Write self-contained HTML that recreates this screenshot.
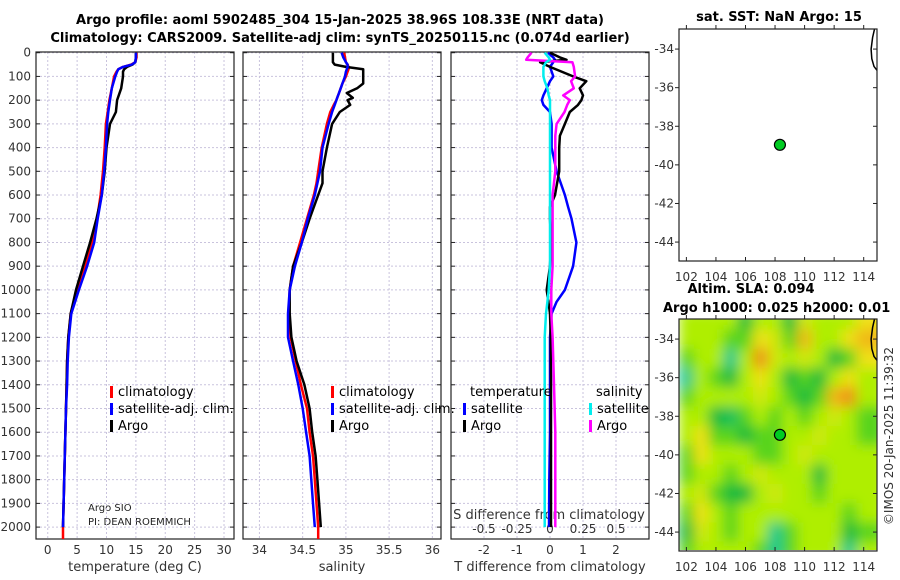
<!DOCTYPE html>
<html><head><meta charset="utf-8"><style>
body{margin:0;background:#fff}
svg{display:block;font-family:"DejaVu Sans","Liberation Sans",sans-serif}
.t{font-size:12px;fill:#333}
.b{font-weight:bold;font-size:13px;fill:#000}
</style></head><body>
<svg id="fig" width="900" height="580" viewBox="0 0 900 580">
<defs>
<clipPath id="c1"><rect x="36" y="52" width="198" height="487"/></clipPath>
<clipPath id="c2"><rect x="243" y="52" width="198" height="487"/></clipPath>
<clipPath id="c3"><rect x="451" y="52" width="198" height="487"/></clipPath>
<clipPath id="cm1"><rect x="679" y="29" width="198" height="232"/></clipPath>
<clipPath id="cm2"><rect x="679" y="319" width="198" height="231"/></clipPath>
<filter id="blur" x="0" y="0" width="1" height="1"><feGaussianBlur stdDeviation="6.5" edgeMode="duplicate"/></filter>
</defs>
<text class="b" x="340" y="24" text-anchor="middle">Argo profile: aoml 5902485_304 15-Jan-2025 38.96S 108.33E (NRT data)</text>
<text class="b" x="340" y="42" text-anchor="middle">Climatology: CARS2009. Satellite-adj clim: synTS_20250115.nc (0.074d earlier)</text>
<text class="b" x="779" y="21" text-anchor="middle">sat. SST: NaN Argo: 15</text>
<text class="b" x="751" y="293" text-anchor="middle">Altim. SLA: 0.094</text>
<text class="b" x="663" y="312">Argo h1000: 0.025 h2000: 0.01</text>
<text class="t" x="0" y="0" transform="translate(893,436) rotate(-90)" text-anchor="middle">©IMOS 20-Jan-2025 11:39:32</text>
<text x="88" y="511" style="font-size:10px;fill:#222">Argo SIO</text>
<text x="88" y="525" style="font-size:10px;fill:#222">PI: DEAN ROEMMICH</text>
<text class="t" x="135" y="571" text-anchor="middle" style="font-size:13px">temperature (deg C)</text>
<text class="t" x="342" y="571" text-anchor="middle" style="font-size:13px">salinity</text>
<text class="t" x="550" y="571" text-anchor="middle" style="font-size:13px">T difference from climatology</text>
<text class="t" x="549" y="519" text-anchor="middle" style="font-size:13px">S difference from climatology</text>
<g id="layer"></g>
</svg>
<script>
// ---- profile data ----
var tDepth=[0,20,40,50,60,70,80,100,150,200,250,300,400,500,600,700,800,900,1000,1100,1200,1300,1400,1500,1600,1700,1800,1900,2000];
var tClim=[15.1,15.1,14.9,14.2,12.8,12.0,11.7,11.3,10.9,10.5,10.2,9.9,9.7,9.4,9.0,8.4,7.6,6.4,5.0,3.9,3.5,3.3,3.2,3.1,3.0,2.9,2.8,2.7,2.6];
var tSat=[15.0,15.0,14.9,14.3,12.8,12.0,11.8,11.5,10.9,10.6,10.3,10.1,9.9,9.6,9.2,8.5,7.9,6.7,5.3,4.0,3.6,3.4,3.3,3.1,3.0,2.9,2.8,2.7,2.6];
var tArgo=[15.0,15.0,14.9,14.4,13.5,13.0,12.8,12.8,12.5,11.8,11.6,10.6,10.0,9.7,9.2,8.3,7.2,6.0,4.8,3.9,3.5,3.3,3.2,3.1,3.0,2.9,2.8,2.7,2.6];
var sDepth=[0,20,40,50,60,70,80,100,130,150,170,190,200,220,250,300,400,500,550,600,700,800,900,1000,1100,1200,1300,1400,1500,1600,1700,1800,1900,2000];
var sClim=[34.98,34.99,35.0,35.02,35.03,35.03,35.02,35.0,34.96,34.94,34.92,34.9,34.89,34.86,34.82,34.78,34.72,34.68,34.66,34.63,34.55,34.47,34.39,34.35,34.34,34.36,34.42,34.48,34.55,34.58,34.62,34.64,34.66,34.68];
var sSat=[34.95,34.97,35.0,35.02,35.02,35.01,35.0,34.99,34.96,34.94,34.92,34.9,34.89,34.87,34.84,34.8,34.73,34.7,34.67,34.64,34.56,34.49,34.41,34.35,34.33,34.33,34.39,34.45,34.5,34.54,34.58,34.6,34.62,34.64];
var sArgo=[34.85,34.85,34.85,34.87,35.0,35.2,35.2,35.2,35.2,35.13,35.01,35.08,35.02,35.05,34.93,34.84,34.78,34.73,34.73,34.68,34.58,34.49,34.39,34.35,34.35,34.37,34.43,34.5,34.56,34.59,34.63,34.65,34.67,34.69];
var dDepth=[0,20,30,40,60,100,120,150,180,200,220,250,300,350,400,500,600,650,700,800,900,1000,1050,1100,1200,1400,1600,1800,2000];
var dTSat=[-0.06,0.1,0.15,0.1,0.0,0.1,0.0,-0.1,-0.2,-0.25,-0.2,0.0,0.05,0.05,0.05,0.2,0.45,0.55,0.65,0.8,0.7,0.45,0.2,0.05,0.0,0.0,0.0,-0.02,-0.03];
var dTArgo=[0.0,0.3,0.5,-0.3,0.0,0.7,1.1,0.9,1.0,0.95,0.85,0.6,0.45,0.3,0.28,0.28,0.15,0.0,0.0,0.03,0.0,-0.1,-0.05,0.0,0.02,0.03,0.03,0.03,0.03];
var dSSat=[-0.04,-0.01,0.0,-0.03,-0.05,-0.05,-0.04,-0.02,-0.01,0.0,0.0,0.0,0.0,0.0,0.0,0.0,0.0,0.0,0.0,0.0,0.0,-0.01,-0.02,-0.03,-0.04,-0.04,-0.04,-0.04,-0.04];
var dSArgo=[-0.14,-0.17,-0.18,0.17,0.18,0.19,0.16,0.18,0.1,0.15,0.13,0.11,0.05,0.04,0.04,0.04,0.02,0.02,0.02,0.02,0.02,0.01,0.01,0.01,0.02,0.03,0.04,0.04,0.04];
var tTicks=[0,5,10,15,20,25,30];
var sTicks=[34,34.5,35,35.5,36];
var dtTicks=[-2,-1,0,1,2];
var dsTicks=[-0.5,-0.25,0,0.25,0.5];
var dsTickLabels=["-0.5","-0.25","0","0.25","0.5"];
var depthTicks=[0,100,200,300,400,500,600,700,800,900,1000,1100,1200,1300,1400,1500,1600,1700,1800,1900,2000];
// ---- map data ----
var mapLons=[102,103,104,105,106,107,108,109,110,111,112,113,114,115];
var mapLats=[-33,-34,-35,-36,-37,-38,-39,-40,-41,-42,-43,-44,-45];
var sla=[
[2,2,2,2,1,2,2,1,2.5,2,2,2,3,3],
[2,2,2,1.5,1.5,3,2.5,1.5,3.5,2,2,3,3.5,3.5],
[1.5,2,2,0.5,2,4,2.5,2,2.5,2,1,1.5,3,3],
[0.5,2,1.5,1,2,3,2,1,1.5,1,2,3,2,2],
[1.5,2,2,2,2,2.5,2,1.5,1,1.5,3.5,4,2,2],
[2,2,1,0.8,1.5,2,1.5,2,1.5,2,2.5,2,1.5,1.5],
[2,3,1.5,1.5,1,1.5,1.5,2,2,2.5,2,2,1.5,1.5],
[1.5,3,2,2,2,1.5,1.5,2,2.5,2,2,2,2,2],
[1.5,2,2,1.5,2,2.5,2,2,2,1,2,2,2,2],
[2,2.5,1.5,1,1,2,2.5,2,2,1.5,2,2,2,2],
[1.5,3,2,1.5,2,2,2,2,2,2,2,1.5,2,2],
[1,2.5,2,1.5,2,2,0.5,1.5,2,2,2,1,1.5,1.5],
[1.5,2,2,2,2,1.5,0.5,1.5,2,2,2,0.5,2,2]];
var floatLon=[108.33];
var floatLat=[-38.96];
var lonTicks=[102,104,106,108,110,112,114];
var latTicks=[-34,-36,-38,-40,-42,-44];
var coastLon=[114.75,114.6,114.5,114.55,114.7,114.9];
var coastLat=[-32.9,-33.4,-34.0,-34.5,-34.9,-35.1];

var NS="http://www.w3.org/2000/svg";
var L=document.getElementById('layer');
function mk(tag,at,parent){var e=document.createElementNS(NS,tag);for(var k in at)e.setAttribute(k,at[k]);(parent||L).appendChild(e);return e;}
function Y(d){return 52.7+d*0.2372;}
function lin(a,b,p,q){return function(v){return p+(v-a)/(b-a)*(q-p);};}
var X1=lin(-2,31.7,36,234), X2=lin(33.81,36.1,243,441), X3=lin(-3,3,451,649), X3s=lin(-0.75,0.75,451,649);
var panels=[{x:36,X:X1,ticks:tTicks,lab:tTicks.map(String),n:'temperature'},{x:243,X:X2,ticks:sTicks,lab:sTicks.map(String),n:'salinity'},{x:451,X:X3,ticks:dtTicks,lab:dtTicks.map(String),n:'difference'}];
panels.forEach(function(p,i){
  var g=mk('g',{});
  
  
  depthTicks.forEach(function(d){
    var ln=mk('line',{x1:p.x,x2:p.x+198,y1:Y(d),y2:Y(d),stroke:'#c9c3dd','stroke-width':1,'stroke-dasharray':'2,2'},g);
    
    
    mk('line',{x1:p.x,x2:p.x+4,y1:Y(d),y2:Y(d),stroke:'#222'},g);
    mk('line',{x1:p.x+194,x2:p.x+198,y1:Y(d),y2:Y(d),stroke:'#222'},g);
  });
  p.ticks.forEach(function(v,j){
    var ln=mk('line',{x1:p.X(v),x2:p.X(v),y1:52,y2:539,stroke:'#c9c3dd','stroke-dasharray':'2,2'},g);
    
    
    var t=mk('text',{x:p.X(v),y:554,'text-anchor':'middle','class':'t'},g);
    t.textContent=p.lab[j];
    
    
  });
  var fr=mk('rect',{x:p.x,y:52,width:198,height:487,fill:'none',stroke:'#222','stroke-width':1.2},g);
  
  
});
depthTicks.forEach(function(d){
  var t=mk('text',{x:31,y:Y(d)+4,'text-anchor':'end','class':'t'});
  t.textContent=String(d);
  
  
});
dsTicks.forEach(function(v,j){
  var t=mk('text',{x:X3s(v),y:533,'text-anchor':'middle','class':'t'});
  t.textContent=dsTickLabels[j];
  
  
});
function line(ds,vs,X,col,clip,name,w){
  var pts=ds.map(function(d,i){return X(vs[i]).toFixed(1)+','+Y(d).toFixed(1);}).join(' ');
  var e=mk('polyline',{points:pts,fill:'none',stroke:col,'stroke-width':w||2.5,'stroke-linejoin':'round','clip-path':'url(#'+clip+')'});
  
  
}
var zl=mk('line',{x1:X3(0),x2:X3(0),y1:Y(250),y2:Y(1000),stroke:'#555','stroke-dasharray':'1,2'});


line(tDepth.concat([2050]),tClim.concat([2.6]),X1,'#f00','c1','temperature-climatology-line');
line(tDepth,tArgo,X1,'#000','c1','temperature-argo-line');
line(tDepth,tSat,X1,'#00f','c1','temperature-satellite-line');
line(sDepth.concat([2050]),sClim.concat([34.68]),X2,'#f00','c2','salinity-climatology-line');
line(sDepth,sArgo.map(function(v,i){return sDepth[i]>1300?v+0.02:v;}),X2,'#000','c2','salinity-argo-line');
line(sDepth,sSat,X2,'#00f','c2','salinity-satellite-line');
line(dDepth,dTSat,X3,'#00f','c3','t-diff-satellite-line');
line(dDepth,dTArgo,X3,'#000','c3','t-diff-argo-line');
line(dDepth,dSArgo,X3s,'#f0f','c3','s-diff-argo-line');
line(dDepth,dSSat,X3s,'#0ee','c3','s-diff-satellite-line');
// legends
function leg(x,y,col,txt,name){
  var m=mk('rect',{x:x-1,y:y-9,width:3,height:12,fill:col});
  
  
  var t=mk('text',{x:x+7,y:y+1,'class':'t',style:'font-size:13px;fill:#000'});
  t.textContent=txt;
  
  
}
leg(111,395,'#f00','climatology','t-legend-climatology');
leg(111,412,'#00f','satellite-adj. clim.','t-legend-satellite');
leg(111,429,'#000','Argo','t-legend-argo');
leg(332,395,'#f00','climatology','s-legend-climatology');
leg(332,412,'#00f','satellite-adj. clim.','s-legend-satellite');
leg(332,429,'#000','Argo','s-legend-argo');
var th=mk('text',{x:470,y:396,'class':'t',style:'font-size:13px;fill:#000'});th.textContent='temperature';


var sh=mk('text',{x:596,y:396,'class':'t',style:'font-size:13px;fill:#000'});sh.textContent='salinity';


leg(464,412,'#00f','satellite','diff-legend-t-satellite');
leg(464,429,'#000','Argo','diff-legend-t-argo');
leg(590,412,'#0ee','satellite','diff-legend-s-satellite');
leg(590,429,'#f0f','Argo','diff-legend-s-argo');
// maps
var MX=lin(101.5,114.9,679,877);
function MY1(v){return 29+(-32.96-v)*19.3;}
function MY2(v){return 319+(-32.96-v)*19.3;}
var stops=[[0,215,225],[0,185,60],[175,238,0],[240,225,20],[240,140,20]];
function cmap(v){var i=Math.min(3,Math.floor(v)),f=v-i,a=stops[i],b=stops[i+1];
  return 'rgb('+a.map(function(c,k){return Math.round(c+(b[k]-c)*f);}).join(',')+')';}
var hm=mk('g',{'clip-path':'url(#cm2)'});


var hb=mk('g',{filter:'url(#blur)'},hm);
mk('rect',{x:679,y:319,width:198,height:231,fill:cmap(2)},hb);
sla.forEach(function(row,r){row.forEach(function(v,c){
  var x0=MX(mapLons[c]-0.5),x1=MX(mapLons[c]+0.5),y0=MY2(mapLats[r]+0.5),y1=MY2(mapLats[r]-0.5);
  var cell=mk('rect',{x:x0.toFixed(1),y:y0.toFixed(1),width:(x1-x0+0.6).toFixed(1),height:(y1-y0+0.6).toFixed(1),fill:cmap(v)},hb);
  
  
});});
[[29,MY1,'cm1','sst-map'],[319,MY2,'cm2','sla-map']].forEach(function(m){
  var y0=m[0],MY=m[1];
  var cp=coastLon.map(function(v,i){return MX(v).toFixed(1)+','+MY(coastLat[i]).toFixed(1);}).join(' ');
  var co=mk('polyline',{points:cp,fill:'none',stroke:'#000','stroke-width':1.5,'clip-path':'url(#'+m[2]+')'});
  
  
  var fr=mk('rect',{x:679,y:y0,width:198,height:232,fill:'none',stroke:'#222','stroke-width':1.2});
  
  
  lonTicks.forEach(function(v){
    mk('line',{x1:MX(v),x2:MX(v),y1:y0+232,y2:y0+228,stroke:'#222'});
    mk('line',{x1:MX(v),x2:MX(v),y1:y0,y2:y0-4,stroke:'#222'});
    var t=mk('text',{x:MX(v),y:y0+252,'text-anchor':'middle','class':'t'});
    t.textContent=String(v);
    
    
  });
  latTicks.forEach(function(v){
    mk('line',{x1:675,x2:679,y1:MY(v),y2:MY(v),stroke:'#222'});
    mk('line',{x1:877,x2:873,y1:MY(v),y2:MY(v),stroke:'#222'});
    var t=mk('text',{x:674,y:MY(v)+4,'text-anchor':'end','class':'t'});
    t.textContent=String(v);
    
    
  });
  var dot=mk('circle',{cx:MX(floatLon[0]),cy:MY(floatLat[0]),r:5.5,fill:'#00cc22',stroke:'#000','stroke-width':1.2});
  
  
});
</script>
</body></html>
